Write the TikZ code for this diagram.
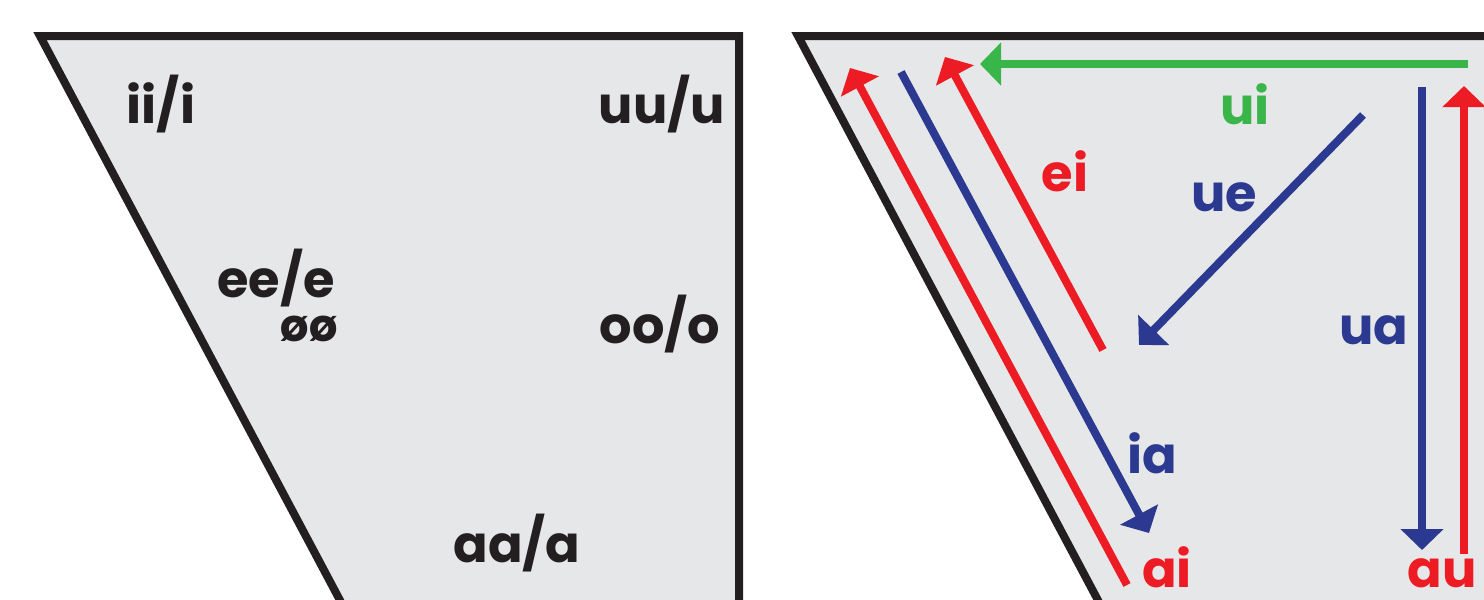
\documentclass[tikz,border=0pt]{standalone}
\usepackage{fontspec}
\setmainfont{Poppins}
\usetikzlibrary{arrows.meta}
\definecolor{panelfill}{HTML}{E6E7E8}
\definecolor{inkblack}{HTML}{231F20}
\definecolor{vred}{HTML}{ED1C24}
\definecolor{vblue}{HTML}{2B3990}
\definecolor{vgreen}{HTML}{39B54A}
\tikzset{
  panel/.style={fill=panelfill, draw=inkblack, line width=8pt, line join=miter},
  vowel/.style={inner sep=0pt, anchor=base, text=inkblack, font=\bfseries\fontsize{51}{58}\selectfont},
  smallvowel/.style={inner sep=0pt, anchor=base, text=inkblack, font=\bfseries\fontsize{45}{52}\selectfont},
  diph/.style={inner sep=0pt, anchor=base, font=\bfseries\fontsize{51}{58}\selectfont},
  glide/.style={line width=8pt, -{Triangle[length=21pt,width=42pt]}}
}
\begin{document}
\begin{tikzpicture}[x=1pt,y=-1pt]
\useasboundingbox (0,0) rectangle (1484,600);
\clip (0,0) rectangle (1484,600);
% left panel
\draw[panel] (40,36) -- (739,36) -- (739,700) -- (393,700) -- cycle;
% right panel
\draw[panel] (798,36) -- (1497,36) -- (1497,700) -- (1151,700) -- cycle;

% left panel labels
\node[vowel] (ii) at (161,123) {ii/i};
\node[vowel] (uu) at (662,123) {uu/u};
\node[vowel] (ee) at (276,297) {ee/e};
\node[smallvowel] (oe) at (309,341) {øø};
\node[vowel] (oo) at (660,343) {oo/o};
\node[vowel] (aa) at (517,562) {aa/a};

% right panel labels
\node[diph, text=vgreen] (ui) at (1245,124) {ui};
\node[diph, text=vred] (ei) at (1065,191) {ei};
\node[diph, text=vblue] (ue) at (1224,211) {ue};
\node[diph, text=vblue] (ua) at (1374,344) {ua};
\node[diph, text=vblue] (ia) at (1152,473) {ia};
\node[diph, text=vred] (ai) at (1167,587) {ai};
\node[diph, text=vred] (au) at (1442,587) {au};

% arrow end points
\coordinate (uiS) at (1468,64);
\coordinate (uiE) at (980,64);
\coordinate (aiS) at (1127,585);
\coordinate (aiE) at (850,68);
\coordinate (iaS) at (901,72);
\coordinate (iaE) at (1149,533);
\coordinate (eiS) at (1103,350);
\coordinate (eiE) at (945,57);
\coordinate (ueS) at (1363,115);
\coordinate (ueE) at (1139,345);
\coordinate (uaS) at (1422,87);
\coordinate (uaE) at (1422,550);
\coordinate (auS) at (1464,554);
\coordinate (auE) at (1464,86);

\draw[glide, vgreen] (uiS) -- (uiE);
\draw[glide, vred] (aiS) -- (aiE);
\draw[glide, vblue] (iaS) -- (iaE);
\draw[glide, vred] (eiS) -- (eiE);
\draw[glide, vblue] (ueS) -- (ueE);
\draw[glide, vblue] (uaS) -- (uaE);
\draw[glide, vred] (auS) -- (auE);
\end{tikzpicture}
\end{document}
